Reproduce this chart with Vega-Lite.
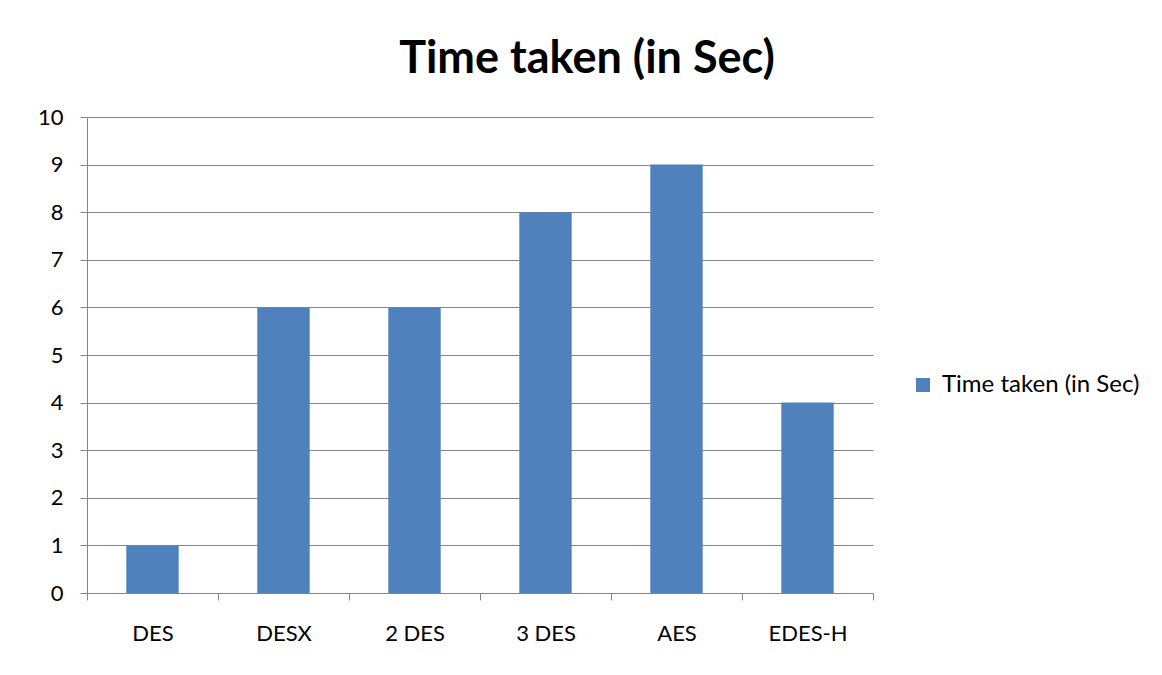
{
  "$schema": "https://vega.github.io/schema/vega-lite/v6.json",
  "autosize": {"type": "none"},
  "width": 786,
  "height": 476,
  "padding": {"left": 87, "top": 117, "right": 289, "bottom": 82},
  "background": "white",
  "title": {
    "text": "Time taken (in Sec)",
    "font": "Lato",
    "fontSize": 45,
    "fontWeight": "bold",
    "color": "#000000",
    "anchor": "middle",
    "frame": "group",
    "dx": 107,
    "offset": 24
  },
  "data": {
    "values": [
      {"algo": "DES", "time": 1, "series": "Time taken (in Sec)"},
      {"algo": "DESX", "time": 6, "series": "Time taken (in Sec)"},
      {"algo": "2 DES", "time": 6, "series": "Time taken (in Sec)"},
      {"algo": "3 DES", "time": 8, "series": "Time taken (in Sec)"},
      {"algo": "AES", "time": 9, "series": "Time taken (in Sec)"},
      {"algo": "EDES-H", "time": 4, "series": "Time taken (in Sec)"}
    ]
  },
  "mark": {"type": "bar", "width": {"band": 0.4}},
  "encoding": {
    "x": {
      "field": "algo",
      "type": "nominal",
      "sort": null,
      "scale": {"paddingInner": 0, "paddingOuter": 0},
      "axis": {
        "title": null,
        "labelAngle": 0,
        "labelFont": "Lato",
        "labelFontSize": 22,
        "labelColor": "#000000",
        "labelPadding": 23,
        "tickBand": "extent",
        "tickSize": 7,
        "tickColor": "#868686",
        "domainColor": "#868686",
        "grid": false
      }
    },
    "y": {
      "field": "time",
      "type": "quantitative",
      "scale": {"domain": [0, 10], "nice": false},
      "axis": {
        "title": null,
        "values": [0, 1, 2, 3, 4, 5, 6, 7, 8, 9, 10],
        "labelFont": "Lato",
        "labelFontSize": 22,
        "labelColor": "#000000",
        "labelPadding": 17,
        "tickSize": 7,
        "tickColor": "#868686",
        "domainColor": "#868686",
        "gridColor": "#868686",
        "gridOpacity": 1
      }
    },
    "color": {
      "field": "series",
      "type": "nominal",
      "scale": {"range": ["#4F81BD"]},
      "legend": {
        "title": null,
        "orient": "none",
        "legendX": 824,
        "legendY": 256,
        "padding": 0,
        "symbolType": "square",
        "symbolSize": 196,
        "symbolStrokeWidth": 0,
        "labelFont": "Lato",
        "labelFontSize": 24,
        "labelLimit": 400,
        "labelColor": "#000000",
        "labelOffset": 7
      }
    }
  },
  "config": {"view": {"stroke": null}}
}
